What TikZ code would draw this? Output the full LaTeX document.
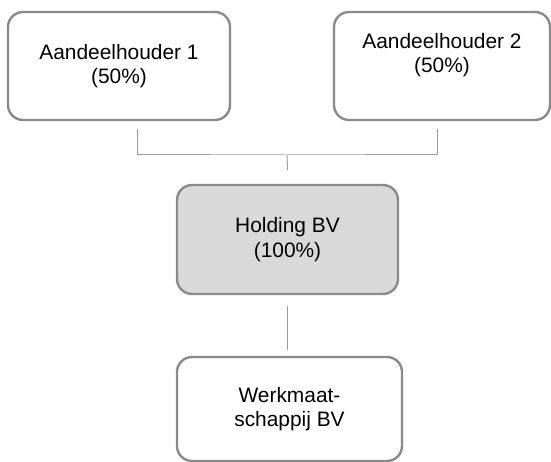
\documentclass[tikz,border=0pt]{standalone}
\usepackage{fontspec}
\setmainfont{Liberation Sans}
\usepackage{tikz}
\usetikzlibrary{positioning}

\definecolor{edgegray}{HTML}{8A8A8A}
\definecolor{linegray}{HTML}{9C9C9C}
\definecolor{holdfill}{HTML}{D9D9D9}

\tikzset{
  orgbox/.style={draw=edgegray, line width=2.4pt, rounded corners=15pt, align=center,
    font=\fontsize{20.9}{24.6}\selectfont, inner sep=0pt},
  orgtext/.style={align=center, font=\fontsize{20.9}{24.6}\selectfont, inner sep=0pt},
  conn/.style={draw=linegray, line width=1pt}
}

\begin{document}
\begin{tikzpicture}[x=1pt, y=-1pt]
  \useasboundingbox (0,0) rectangle (551,462);

  % Shareholders
  \node[orgbox, minimum width=222pt, minimum height=108pt] (aand1) at (119,66)
    {Aandeelhouder 1\\(50\%)};
  \node[orgbox, minimum width=216pt, minimum height=108pt,
    label={[orgtext, yshift=11pt]center:Aandeelhouder 2\\(50\%)}] (aand2) at (442,66) {};

  % Holding and subsidiary
  \node[orgbox, fill=holdfill, minimum width=221pt, minimum height=109pt] (hold) at (287.5,239.5)
    {Holding BV\\(100\%)};
  \node[orgbox, minimum width=225pt, minimum height=104pt] (werk) at (289.5,409)
    {Werkmaat-\\schappij BV};

  % Connectors
  \coordinate (bus) at (287,155);
  \draw[conn] ([xshift=18pt, yshift=-8pt]aand1.south) |- (bus)
    -| ([xshift=-5pt, yshift=-8pt]aand2.south);
  \draw[conn] (bus) -- ([yshift=14pt]hold.north);
  \draw[conn] ([yshift=-11pt]hold.south) -- ([yshift=6pt]hold.south |- werk.north);
\end{tikzpicture}
\end{document}
